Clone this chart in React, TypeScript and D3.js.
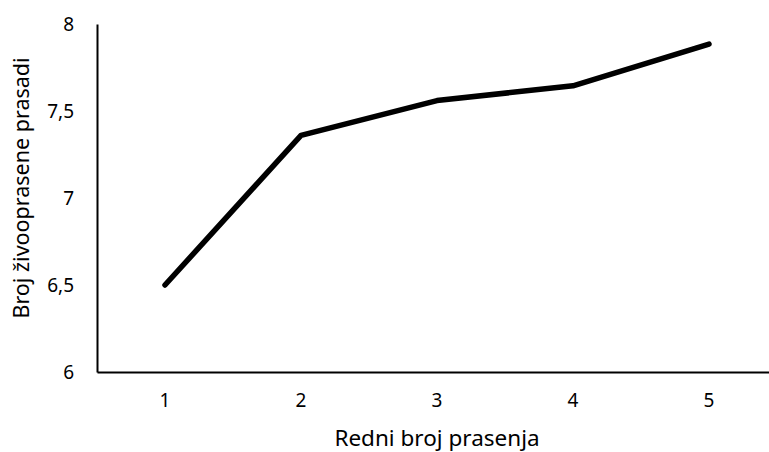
import React, { useEffect, useRef } from 'react';
import * as d3 from 'd3';

const categories = ['1', '2', '3', '4', '5'];
const values = [6.5, 7.36, 7.56, 7.645, 7.885];
const yTicks = [6, 6.5, 7, 7.5, 8];
const xTitle = 'Redni broj prasenja';
const yTitle = 'Broj živooprasene prasadi';

const W = 769;
const H = 452;

const App: React.FC = () => {
   const svgRef = useRef<SVGSVGElement | null>(null);

   useEffect(() => {
      document.body.style.margin = '0';
      if (!svgRef.current) return;
      const svg = d3.select(svgRef.current);
      svg.selectAll('*').remove();

      const left = 97, right = 777, top = 24, bottom = 372;
      const font = '"Noto Sans", "Open Sans", sans-serif';

      const x = d3.scaleBand().domain(categories).range([left, right]);
      const y = d3.scaleLinear().domain([6, 8]).range([bottom, top]);

      // y axis
      const yAxis = svg.append('g')
         .attr('transform', `translate(${left},0)`)
         .call(d3.axisLeft(y).tickValues(yTicks).tickSize(0).tickPadding(23)
            .tickFormat(d => d3.format('.1~f')(d as number).replace('.', ',')));
      yAxis.select('.domain').attr('stroke', '#000').attr('stroke-width', 2);
      yAxis.selectAll('text').attr('font-family', font).attr('font-size', 19).attr('fill', '#000');

      // x axis
      const xAxis = svg.append('g')
         .attr('transform', `translate(0,${bottom})`)
         .call(d3.axisBottom(x).tickSize(0).tickPadding(22));
      xAxis.select('.domain').attr('stroke', '#000').attr('stroke-width', 2);
      xAxis.selectAll('text').attr('font-family', font).attr('font-size', 19).attr('fill', '#000');

      // line
      const line = d3.line<number>()
         .x((_, i) => x(categories[i])! + x.bandwidth() / 2)
         .y(d => y(d));

      svg.append('path')
         .datum(values)
         .attr('d', line)
         .attr('fill', 'none')
         .attr('stroke', '#000')
         .attr('stroke-width', 5.5)
         .attr('stroke-linejoin', 'round')
         .attr('stroke-linecap', 'round');

      // titles
      svg.append('text')
         .attr('x', (left + right) / 2)
         .attr('y', 446)
         .attr('text-anchor', 'middle')
         .attr('font-family', font)
         .attr('font-size', 22.5)
         .text(xTitle);

      svg.append('text')
         .attr('transform', `translate(29,188) rotate(-90)`)
         .attr('text-anchor', 'middle')
         .attr('font-family', font)
         .attr('font-size', 21.5)
         .text(yTitle);
   }, []);

   return (
      <div style={{ width: W, height: H, overflow: 'hidden', background: '#fff' }}>
         <svg ref={svgRef} width={W} height={H} style={{ display: 'block' }} />
      </div>
   );
};

export default App;
